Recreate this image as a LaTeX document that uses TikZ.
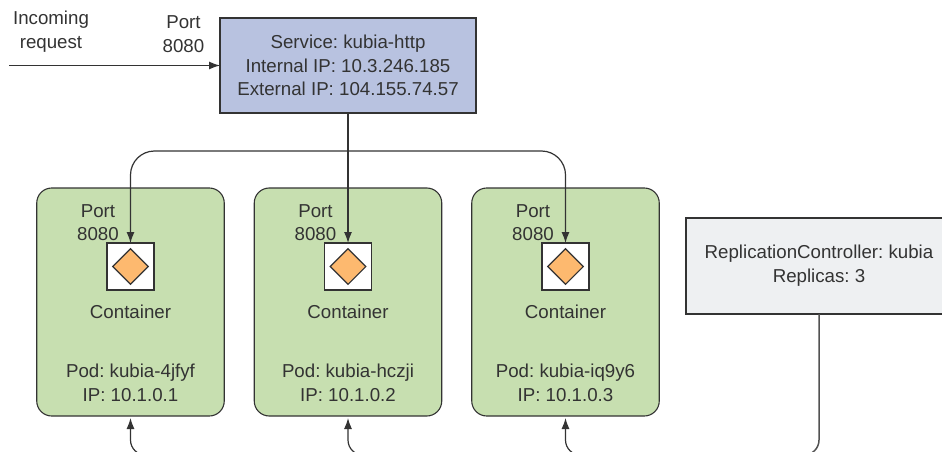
\documentclass[tikz,border=0pt]{standalone}
\usepackage{fontspec}
\setmainfont{Liberation Sans}
\usetikzlibrary{arrows.meta, positioning, shapes.geometric}
\definecolor{inkgrey}{HTML}{333333}
\definecolor{servicefill}{HTML}{B8C2E0}
\definecolor{podfill}{HTML}{C7DFB0}
\definecolor{rcfill}{HTML}{EEF0F2}
\definecolor{diamondfill}{HTML}{FDB96F}
\frenchspacing

\begin{document}
\begin{tikzpicture}[
        x=1pt, y=-1pt,
        font={\frenchspacing\fontsize{18.7}{23.7}\selectfont},
        text=inkgrey,
        block/.style={rectangle, draw=inkgrey, line width=1.1pt, inner sep=0pt, outer sep=0pt, align=center},
        pod/.style={rectangle, rounded corners=15pt, draw=inkgrey, line width=1.1pt, fill=podfill, minimum width=187.5pt, minimum height=228pt, inner sep=0pt, outer sep=0pt},
        cont/.style={rectangle, draw=inkgrey, line width=1.1pt, fill=white, minimum size=47pt, inner sep=0pt, outer sep=0pt},
        tag/.style={align=center, inner sep=0pt, outer sep=0pt},
        flow/.style={draw=inkgrey, line width=1.2pt, -{Latex[length=11pt,width=8pt]}},
        wire/.style={draw=inkgrey!85, line width=1.5pt},
        node distance=30pt
    ]

    \tikzstyle{gem} = [draw=inkgrey, line width=1.1pt, diamond, fill=diamondfill, minimum size=36pt, inner sep=0pt]
    \path[use as bounding box] (0,0) rectangle (942,452);
    \clip (0,0) rectangle (942,452);

    \node[block, fill=servicefill, minimum width=256pt, minimum height=95pt] (service) at (348,65.5) {Service: kubia-http\\Internal IP: 10.3.246.185\\External IP: 104.155.74.57};
    \node[tag] (incoming) at (51,32) {Incoming\\request};
    \node[tag] (serviceport) at (183.5,34) {Port\\8080};
    \coordinate (source) at (9,65.5);
    \draw[flow] (source) -- (service);

    \node[pod] (pod1) at (130.5,302) {};
    \node[pod, right=of pod1] (pod2) {};
    \node[pod, right=of pod2] (pod3) {};

    \node[cont] (cont1) at ([yshift=35.5pt]pod1.center) {};
    \node[cont] (cont2) at ([yshift=35.5pt]pod2.center) {};
    \node[cont] (cont3) at ([yshift=35.5pt]pod3.center) {};
    \node[gem] (gem1) at (cont1) {};
    \node[gem] (gem2) at (cont2) {};
    \node[gem] (gem3) at (cont3) {};

    \node[tag, left=32.5pt of cont1.north, anchor=south, yshift=2pt] (port1) {Port\\8080};
    \node[tag, left=32.5pt of cont2.north, anchor=south, yshift=2pt] (port2) {Port\\8080};
    \node[tag, left=32.5pt of cont3.north, anchor=south, yshift=2pt] (port3) {Port\\8080};

    \node[tag] (label1) at ([yshift=-45pt]cont1.center) {Container};
    \node[tag] (label2) at ([yshift=-45pt]cont2.center) {Container};
    \node[tag] (label3) at ([yshift=-45pt]cont3.center) {Container};

    \node[tag] (name1) at ([yshift=33.5pt]pod1.south) {Pod: kubia-4jfyf\\IP: 10.1.0.1};
    \node[tag] (name2) at ([yshift=33.5pt]pod2.south) {Pod: kubia-hczji\\IP: 10.1.0.2};
    \node[tag] (name3) at ([yshift=33.5pt]pod3.south) {Pod: kubia-iq9y6\\IP: 10.1.0.3};

    \coordinate (fork) at (348,151);
    \draw[flow] (service.south) -- (cont2.north);
    \draw[flow, rounded corners=24pt] (fork) -| (cont1.north);
    \draw[flow, rounded corners=24pt] (fork) -| (cont3.north);

    \node[block, fill=rcfill, minimum width=266pt, minimum height=96pt] (rc) at (819,266) {ReplicationController: kubia\\Replicas: 3};

    \coordinate (bus1) at ([xshift=50pt,yshift=-39pt]pod1.south);
    \coordinate (bus2) at ([xshift=50pt,yshift=-39pt]pod2.south);
    \coordinate (bus3) at ([xshift=50pt,yshift=-39pt]pod3.south);
    \coordinate (rcbus) at ([xshift=-50pt,yshift=-141pt]rc.south);
    \draw[flow, rounded corners=15pt, shorten >=2pt] (bus1) -| (pod1.south);
    \draw[flow, rounded corners=15pt, shorten >=2pt] (bus2) -| (pod2.south);
    \draw[flow, rounded corners=15pt, shorten >=2pt] (bus3) -| (pod3.south);
    \draw[wire, rounded corners=15pt] (rc.south) |- (rcbus);

\end{tikzpicture}
\end{document}
